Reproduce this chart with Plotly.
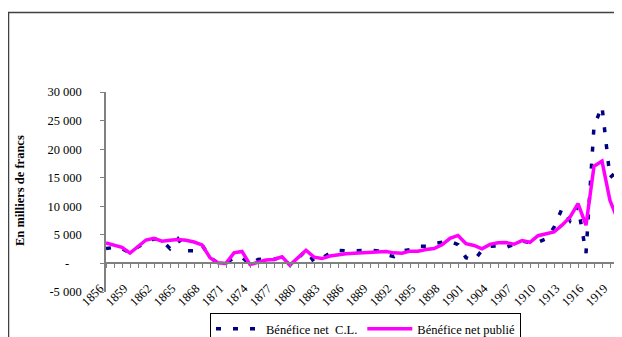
import plotly.graph_objects as go

# ---- data -------------------------------------------------------------
years = list(range(1856, 1921))

benefice_net_cl = [
    2600, 2800, 2600, 1800, 2900, 3700, 4300, 4000, 2600, 4300,   # 1856-1865
    2200, 2200, 3250, 1000, 100, 0, 1000, 1100, -200, 700,        # 1866-1875
    800, 700, 1150, -300, 900, 2300, 300, 950, 1800, 2300,        # 1876-1885
    2200, 2300, 2250, 2300, 2200, 1500, 1200, 2200, 2400, 3000,   # 1886-1895
    3000, 3500, 3700, 3900, 3300, 1000, 500, 2300, 3000, 3050,    # 1896-1905
    2800, 3300, 3900, 3650, 3700, 4300, 6300, 9600, 7500, 10000,  # 1906-1915
    1800, 24000, 27500, 15000, 16300,                             # 1916-1920
]

benefice_net_publie = [
    3600, 3250, 2800, 1800, 3050, 4100, 4400, 3900, 4050, 4200,   # 1856-1865
    4050, 3750, 3250, 1000, 100, 0, 1850, 2100, -200, 200,        # 1866-1875
    600, 700, 1150, -300, 900, 2300, 1100, 850, 1300, 1550,       # 1876-1885
    1700, 1800, 1900, 2000, 2100, 2100, 1850, 1800, 2150, 2150,   # 1886-1895
    2450, 2600, 3250, 4400, 4900, 3450, 3150, 2550, 3330, 3630,   # 1896-1905
    3650, 3350, 4000, 3700, 4850, 5200, 5500, 6700, 8100, 10450,  # 1906-1915
    6700, 17000, 17900, 11000, 7550,                              # 1916-1920
]

x_tick_labels = ["1856", "1859", "1862", "1865", "1868", "1871", "1874",
                 "1877", "1880", "1883", "1886", "1889", "1892", "1895",
                 "1898", "1901", "1904", "1907", "1910", "1913", "1916",
                 "1919"]

y_tick_values = [-5000, 0, 5000, 10000, 15000, 20000, 25000, 30000]
y_tick_labels = ["-5 000", "-", "5 000", "10 000", "15 000", "20 000",
                 "25 000", "30 000"]

series_names = ["Bénéfice net  C.L.", "Bénéfice net publié"]
y_title = "En milliers de francs"

# ---- figure -----------------------------------------------------------
FONT = "Liberation Serif, Times New Roman, serif"
PAGE_OFF = 8                      # default body margin of the html page
W, H = 622 - PAGE_OFF, 337 - PAGE_OFF
# plot area in page pixels: x 106..622, y 92..292
ML, MR = 106 - PAGE_OFF, 0
MT, MB = 92 - PAGE_OFF, 337 - 292
plot_w = W - ML - MR
plot_h = H - MT - MB
y_min, y_max = -5000, 30000
x_min, x_max = 1856, 1920.5


def px_x(page_x):
    return (page_x - PAGE_OFF - ML) / plot_w


def px_y(page_y):
    return 1 - (page_y - PAGE_OFF - MT) / plot_h


def keep_spaces(s):
    # SVG collapses runs of spaces; keep the double space visible
    return s.replace("  ", "\u00a0 ")


fig = go.Figure()
fig.add_trace(go.Scatter(
    x=years, y=benefice_net_cl, name=keep_spaces(series_names[0]),
    mode="lines",
    line=dict(color="#000080", width=3.5, dash="5px,12px"),
))
fig.add_trace(go.Scatter(
    x=years, y=benefice_net_publie, name=keep_spaces(series_names[1]),
    mode="lines",
    line=dict(color="#FF00FF", width=3.5),
))

label_set = set(x_tick_labels)
x_ticktext = [str(y) if str(y) in label_set else "" for y in years]
y_ticktext = [t if t != "-" else t + "\u00a0" * 4 for t in y_tick_labels]

fig.update_layout(
    width=W, height=H,
    margin=dict(l=ML, r=MR, t=MT, b=MB, autoexpand=False),
    paper_bgcolor="white", plot_bgcolor="white",
    font=dict(family=FONT, size=12.5, color="black"),
    showlegend=True,
    legend=dict(
        orientation="h",
        x=px_x(210), xanchor="left",
        y=px_y(313), yanchor="top",
        bordercolor="black", borderwidth=1, bgcolor="white",
        font=dict(family=FONT, size=12.5, color="black"),
        traceorder="normal", itemwidth=45,
    ),
    xaxis=dict(
        range=[x_min, x_max], showgrid=False, zeroline=False,
        anchor="free", position=(0 - y_min) / (y_max - y_min),
        showline=True, linecolor="#808080", linewidth=1.5,
        ticks="outside", ticklen=4, tickwidth=1, tickcolor="#808080",
        tickvals=years, ticktext=x_ticktext, tickangle=-45,
        ticklabelstandoff=8, ticklabelshift=-6,
        tickfont=dict(family=FONT, size=12.5, color="black"),
    ),
    yaxis=dict(
        range=[y_min, y_max], showgrid=False, zeroline=False,
        showline=True, linecolor="#808080", linewidth=1.5,
        ticks="outside", ticklen=4, tickwidth=1, tickcolor="#808080",
        tickvals=y_tick_values, ticktext=y_ticktext,
        ticklabelstandoff=16,
        tickfont=dict(family=FONT, size=12.5, color="black"),
    ),
    annotations=[dict(
        text="<b>" + y_title + "</b>", xref="paper", yref="paper",
        x=px_x(20), y=px_y(191), textangle=-90, showarrow=False,
        font=dict(family=FONT, size=12.5, color="black"),
        xanchor="center", yanchor="middle",
    )],
    shapes=[dict(
        type="rect", xref="paper", yref="paper",
        x0=px_x(8.5), x1=1.2,
        y0=-0.6, y1=px_y(12.5),
        line=dict(color="#404040", width=1.5), layer="below",
    )],
)

fig.write_html("out.html")
